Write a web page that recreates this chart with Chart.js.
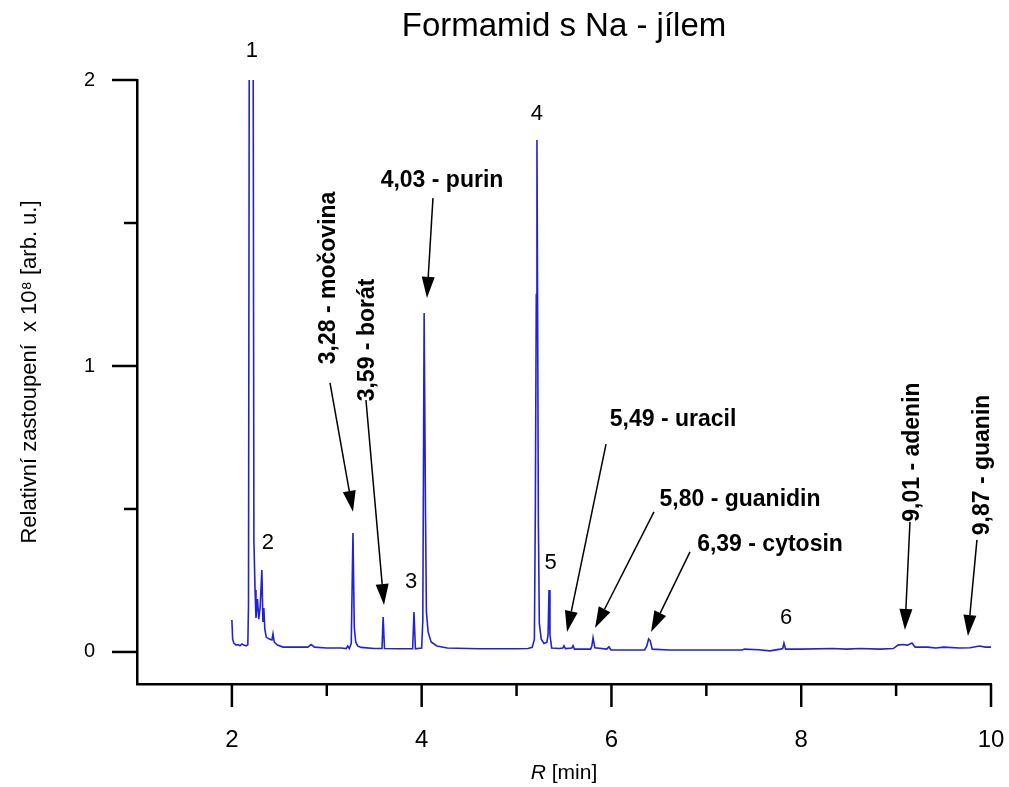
<!DOCTYPE html>
<html>
<head>
<meta charset="utf-8">
<script src="https://cdn.jsdelivr.net/npm/chart.js@4.4.0/dist/chart.umd.min.js"></script>
<style>
  html, body { margin: 0; padding: 0; background: #fff; }
</style>
</head>
<body>
<canvas id="chart" width="1009" height="787"></canvas>
<script>
// retention time [min] and relative abundance (x 10^8)
const retentionTimes = [
  2.000, 2.008, 2.020, 2.045, 2.065, 2.085, 2.107, 2.125, 2.150, 2.168,
  2.175, 2.185, 2.222, 2.232, 2.244, 2.254, 2.270, 2.283, 2.298, 2.316,
  2.327, 2.337, 2.347, 2.362, 2.395, 2.422, 2.433, 2.446, 2.480, 2.540,
  2.650, 2.800, 2.835, 2.870, 3.000, 3.150, 3.205, 3.220, 3.238, 3.258,
  3.276, 3.290, 3.305, 3.325, 3.360, 3.500, 3.582, 3.594, 3.608, 3.750,
  3.905, 3.919, 3.934, 4.000, 4.012, 4.026, 4.040, 4.050, 4.068, 4.100,
  4.160, 4.270, 4.600, 5.000, 5.120, 5.165, 5.188, 5.198, 5.208, 5.215,
  5.222, 5.230, 5.240, 5.260, 5.290, 5.320, 5.332, 5.342, 5.352, 5.370,
  5.450, 5.488, 5.500, 5.515, 5.583, 5.595, 5.610, 5.780, 5.793, 5.806,
  5.825, 5.950, 5.974, 5.995, 6.350, 6.372, 6.392, 6.408, 6.430, 6.600,
  7.000, 7.380, 7.400, 7.550, 7.670, 7.780, 7.805, 7.818, 7.835, 8.000,
  8.330, 8.480, 8.620, 8.830, 8.970, 9.020, 9.070, 9.120, 9.167, 9.200,
  9.330, 9.420, 9.500, 9.670, 9.780, 9.880, 9.940, 10.000
];
const abundance = [
  0.112, 0.045, 0.031, 0.024, 0.026, 0.022, 0.028, 0.024, 0.021, 0.026,
  0.160, 2.600, 2.600, 0.390, 0.217, 0.119, 0.185, 0.115, 0.157, 0.287,
  0.105, 0.154, 0.080, 0.052, 0.045, 0.042, 0.063, 0.035, 0.024, 0.017,
  0.017, 0.017, 0.026, 0.017, 0.014, 0.014, 0.012, 0.021, 0.012, 0.030,
  0.416, 0.085, 0.035, 0.021, 0.016, 0.012, 0.012, 0.122, 0.012, 0.011,
  0.011, 0.140, 0.011, 0.014, 0.110, 1.185, 0.500, 0.140, 0.070, 0.035,
  0.021, 0.014, 0.011, 0.011, 0.012, 0.016, 0.045, 0.500, 1.250, 1.790,
  1.200, 0.450, 0.100, 0.045, 0.030, 0.034, 0.060, 0.217, 0.060, 0.014,
  0.012, 0.014, 0.022, 0.012, 0.014, 0.022, 0.010, 0.010, 0.020, 0.050,
  0.015, 0.010, 0.018, 0.007, 0.007, 0.020, 0.046, 0.040, 0.010, 0.007,
  0.007, 0.007, 0.010, 0.008, 0.004, 0.010, 0.012, 0.031, 0.010, 0.010,
  0.012, 0.010, 0.012, 0.010, 0.012, 0.024, 0.026, 0.024, 0.031, 0.017,
  0.017, 0.014, 0.017, 0.014, 0.015, 0.021, 0.017, 0.017
];

const xMajorTicks = [2, 4, 6, 8, 10];
const xMinorTicks = [3, 5, 7, 9];
const yMajorTicks = [0, 1, 2];
const yMinorTicks = [0.5, 1.5];

const peakNumbers = ["1", "2", "3", "4", "5", "6"];
const peakNumberTimes = [2.21, 2.38, 3.89, 5.215, 5.36, 7.84];
const peakNumberHeights = [2.10, 0.38, 0.245, 1.88, 0.31, 0.12];

const compoundNames = [
  "3,28 - močovina", "3,59 - borát", "4,03 - purin", "5,49 - uracil",
  "5,80 - guanidin", "6,39 - cytosin", "9,01 - adenin", "9,87 - guanin"
];

// label anchor + arrow (tail -> tip), all in data units
const callouts = [
  { at: [3.023, 1.308], vertical: true,  from: [3.034, 0.941], to: [3.276, 0.490] },
  { at: [3.434, 1.091], vertical: true,  from: [3.413, 0.881], to: [3.603, 0.164] },
  { at: [4.214, 1.647], vertical: false, from: [4.119, 1.587], to: [4.056, 1.238] },
  { at: [6.649, 0.811], vertical: false, from: [5.943, 0.727], to: [5.532, 0.070] },
  { at: [7.355, 0.531], vertical: false, from: [6.448, 0.490], to: [5.827, 0.084] },
  { at: [7.671, 0.374], vertical: false, from: [6.828, 0.350], to: [6.417, 0.070] },
  { at: [9.178, 0.699], vertical: true,  from: [9.146, 0.455], to: [9.093, 0.077] },
  { at: [9.916, 0.654], vertical: true,  from: [9.852, 0.392], to: [9.757, 0.056] }
];

const FONT = '"Liberation Sans", Arial, sans-serif';

function drawArrow(ctx, x1, y1, x2, y2) {
  const ang = Math.atan2(y2 - y1, x2 - x1);
  const headLen = 21, headHalf = 6.5;
  const bx = x2 - headLen * Math.cos(ang), by = y2 - headLen * Math.sin(ang);
  ctx.beginPath();
  ctx.moveTo(x1, y1);
  ctx.lineTo(bx, by);
  ctx.stroke();
  ctx.beginPath();
  ctx.moveTo(x2, y2);
  ctx.lineTo(bx + headHalf * Math.sin(ang), by - headHalf * Math.cos(ang));
  ctx.lineTo(bx - headHalf * Math.sin(ang), by + headHalf * Math.cos(ang));
  ctx.closePath();
  ctx.fill();
}

const decorations = {
  id: "decorations",
  afterDraw(chart) {
    const ctx = chart.ctx;
    const xs = chart.scales.x, ys = chart.scales.y;
    const area = chart.chartArea;
    ctx.save();
    ctx.strokeStyle = "#000";
    ctx.fillStyle = "#000";

    // tick marks
    ctx.lineWidth = 2.5;
    const tickX = (vals, len) => vals.forEach(v => {
      const px = xs.getPixelForValue(v);
      ctx.beginPath(); ctx.moveTo(px, area.bottom); ctx.lineTo(px, area.bottom + len); ctx.stroke();
    });
    const tickY = (vals, len) => vals.forEach(v => {
      const py = ys.getPixelForValue(v);
      ctx.beginPath(); ctx.moveTo(area.left, py); ctx.lineTo(area.left - len, py); ctx.stroke();
    });
    tickX(xMajorTicks, 23); tickX(xMinorTicks, 12);
    tickY(yMajorTicks, 25); tickY(yMinorTicks, 13);

    // title
    const cx = (area.left + area.right) / 2;
    ctx.textAlign = "center";
    ctx.textBaseline = "middle";
    ctx.font = "33px " + FONT;
    ctx.fillText("Formamid s Na - jílem", cx, 27);

    // x axis title, italic R
    ctx.font = "italic 21px " + FONT;
    const wR = ctx.measureText("R").width;
    ctx.font = "21px " + FONT;
    const wRest = ctx.measureText(" [min]").width;
    const startX = cx - (wR + wRest) / 2;
    ctx.textAlign = "left";
    ctx.font = "italic 21px " + FONT;
    ctx.fillText("R", startX, 773);
    ctx.font = "21px " + FONT;
    ctx.fillText(" [min]", startX + wR, 773);

    // y axis title
    ctx.save();
    ctx.translate(30, 372);
    ctx.rotate(-Math.PI / 2);
    ctx.textAlign = "center";
    ctx.font = "22px " + FONT;
    ctx.fillText("Relativní zastoupení  x 10\u2078 [arb. u.]", 0, 0);
    ctx.restore();

    // peak numbers
    ctx.textAlign = "center";
    ctx.font = "22px " + FONT;
    peakNumbers.forEach((n, i) => {
      ctx.fillText(n, xs.getPixelForValue(peakNumberTimes[i]), ys.getPixelForValue(peakNumberHeights[i]));
    });

    // compound callouts
    ctx.lineWidth = 1.5;
    ctx.font = "bold 23px " + FONT;
    callouts.forEach((c, i) => {
      const px = xs.getPixelForValue(c.at[0]), py = ys.getPixelForValue(c.at[1]);
      ctx.save();
      ctx.translate(px, py);
      if (c.vertical) ctx.rotate(-Math.PI / 2);
      ctx.fillText(compoundNames[i], 0, 0);
      ctx.restore();
      drawArrow(ctx,
        xs.getPixelForValue(c.from[0]), ys.getPixelForValue(c.from[1]),
        xs.getPixelForValue(c.to[0]), ys.getPixelForValue(c.to[1]));
    });
    ctx.restore();
  }
};

new Chart(document.getElementById("chart"), {
  type: "line",
  data: {
    datasets: [{
      data: retentionTimes.map((t, i) => ({ x: t, y: abundance[i] })),
      borderColor: "#2222d4",
      borderWidth: 1.6,
      pointRadius: 0,
      tension: 0,
      fill: false
    }]
  },
  options: {
    responsive: false,
    animation: false,
    layout: { padding: { top: 80, right: 18, left: 0, bottom: 0 } },
    plugins: { legend: { display: false }, tooltip: { enabled: false } },
    scales: {
      x: {
        type: "linear",
        min: 1,
        max: 10,
        grid: { display: false, drawTicks: false },
        border: { display: true, color: "#000", width: 2.5 },
        ticks: {
          stepSize: 1,
          padding: 42,
          color: "#000",
          font: { size: 24, family: FONT },
          maxRotation: 0,
          autoSkip: false,
          callback: v => xMajorTicks.includes(v) ? String(v) : ""
        },
        afterFit: s => { s.height = 103; s.paddingLeft = 0; s.paddingRight = 0; }
      },
      y: {
        type: "linear",
        min: -0.112,
        max: 2,
        grid: { display: false, drawTicks: false },
        border: { display: true, color: "#000", width: 2.5 },
        ticks: {
          stepSize: 0.5,
          includeBounds: false,
          padding: 42,
          color: "#000",
          font: { size: 20, family: FONT },
          autoSkip: false,
          callback: v => yMajorTicks.some(t => Math.abs(t - v) < 1e-6) ? String(Math.round(v)) : ""
        },
        afterFit: s => { s.width = 137; s.paddingTop = 0; s.paddingBottom = 0; }
      }
    }
  },
  plugins: [decorations]
});
</script>
</body>
</html>
